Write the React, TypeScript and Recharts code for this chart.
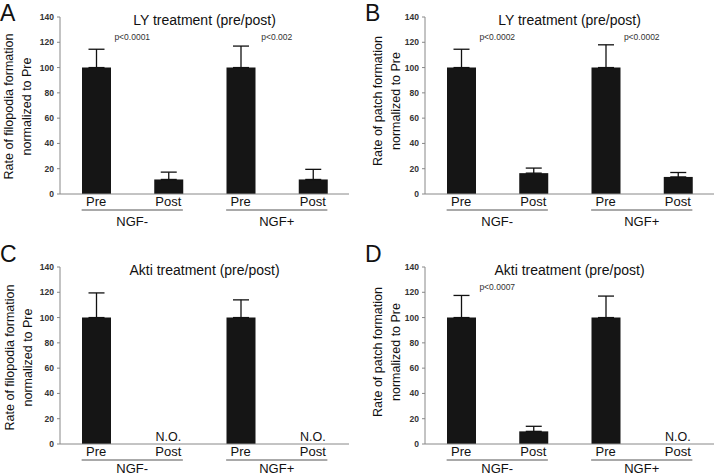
import React from 'react'
import { BarChart, Bar, XAxis, YAxis, ErrorBar, ReferenceDot } from 'recharts'

const conditions = ['Pre', 'Post', 'Pre', 'Post']
const groups = ['NGF-', 'NGF-', 'NGF+', 'NGF+']
const groupNames = ['NGF-', 'NGF+']
const yTicks = [0, 20, 40, 60, 80, 100, 120, 140]

// panel A: LY, filopodia
const lyFilopodia = [100, 11.5, 100, 11.5]
const lyFilopodiaErr = [14.5, 5.8, 17, 8]
const lyFilopodiaP = ['p<0.0001', 'p<0.002']

// panel B: LY, patch
const lyPatch = [100, 16.5, 100, 13.5]
const lyPatchErr = [14.5, 4, 18, 3.5]
const lyPatchP = ['p<0.0002', 'p<0.0002']

// panel C: Akti, filopodia
const aktiFilopodia = [100, 0, 100, 0]
const aktiFilopodiaErr = [19.5, null, 14, null]
const aktiFilopodiaNotes = ['', 'N.O.', '', 'N.O.']

// panel D: Akti, patch
const aktiPatch = [100, 10, 100, 0]
const aktiPatchErr = [17.5, 4, 17, null]
const aktiPatchNotes = ['', '', '', 'N.O.']
const aktiPatchP = ['p<0.0007', '']

const W = 360
const H = 238
const MARGIN = { top: 17, right: 11, bottom: 4, left: 30 }
const BAND = (W - 60 - MARGIN.right) / conditions.length
const BAR = 29
const FONT = '"Liberation Sans", Arial, Helvetica, sans-serif'

function buildRows(values: number[], errs: (number | null)[]) {
  return values.map((v, i) => ({
    key: `${groups[i]}|${conditions[i]}`,
    group: groups[i],
    value: v,
    err: errs[i] == null ? null : [0, errs[i]],
  }))
}

function makeTick(groupDy: number) {
  return function GroupTick(props: any) {
    const { x, y, payload } = props
    const [group, cond] = String(payload.value).split('|')
    return (
      <g>
        <text x={x} y={y + 12} textAnchor="middle" fontSize={13} fill="#111">
          {cond}
        </text>
        {cond === 'Pre' && (
          <g>
            <line x1={x - BAR / 2} x2={x + BAND + BAR / 2} y1={y + 16} y2={y + 16} stroke="#555" strokeWidth={1} />
            <text x={x + BAND / 2} y={y + groupDy} textAnchor="middle" fontSize={13} fill="#111">
              {group}
            </text>
          </g>
        )}
      </g>
    )
  }
}

type PanelProps = {
  left: number
  top: number
  letter: string
  letterY: number
  title: string
  titleY: number
  yLabel: string[]
  labelShift: number
  labelMid: number
  groupDy: number
  values: number[]
  errs: (number | null)[]
  notes?: string[]
  pValues?: string[]
}

function Panel(p: PanelProps) {
  const rows = buildRows(p.values, p.errs)
  const plotMid = 60 + (W - 60 - MARGIN.right) / 2
  const Tick = makeTick(p.groupDy)
  return (
    <div style={{ position: 'absolute', left: p.left, top: p.top, width: W, height: H }}>
      <BarChart width={W} height={H} data={rows} margin={MARGIN}>
        <XAxis
          dataKey="key"
          height={40}
          tickSize={0}
          tickMargin={0}
          interval={0}
          axisLine={{ stroke: '#888' }}
          tick={<Tick />}
        />
        <XAxis xAxisId="grp" dataKey="group" allowDuplicatedCategory={false} hide />
        <YAxis
          width={30}
          domain={[0, 140]}
          ticks={yTicks}
          tickSize={3}
          tickMargin={3}
          axisLine={{ stroke: '#888' }}
          tickLine={{ stroke: '#888' }}
          tick={{ fontSize: 8.5, fontWeight: 700, fill: '#333' }}
        />
        <Bar dataKey="value" fill="#151515" barSize={BAR} isAnimationActive={false}>
          <ErrorBar dataKey="err" direction="y" width={8} stroke="#111" strokeWidth={1.3} />
        </Bar>
        {(p.notes || []).map((t, i) =>
          t ? (
            <ReferenceDot
              key={`n${i}`}
              x={rows[i].key}
              y={rows[i].value}
              r={0}
              fill="none"
              stroke="none"
              label={{ value: t, position: 'top', offset: 3, fontSize: 12.5, fill: '#111' }}
            />
          ) : null
        )}
        {(p.pValues || []).map((t, i) =>
          t ? (
            <ReferenceDot
              key={`p${i}`}
              xAxisId="grp"
              x={groupNames[i]}
              y={124}
              r={0}
              fill="none"
              stroke="none"
              label={{ value: t, position: 'center', fontSize: 8.5, fill: '#333' }}
            />
          ) : null
        )}
      </BarChart>
      <svg width={W} height={H} style={{ position: 'absolute', left: 0, top: 0, overflow: 'visible', pointerEvents: 'none' }}>
        <text x={0} y={p.letterY} fontSize={23} fill="#111">
          {p.letter}
        </text>
        <text x={plotMid} y={p.titleY} textAnchor="middle" fontSize={14} fill="#111">
          {p.title}
        </text>
        {p.yLabel.map((line, i) => (
          <text
            key={i}
            transform={`translate(${12.5 + p.labelShift + i * 18},${p.labelMid}) rotate(-90)`}
            textAnchor="middle"
            fontSize={12.5}
            fill="#111"
          >
            {line}
          </text>
        ))}
      </svg>
    </div>
  )
}

export default function App(): React.JSX.Element {
  return (
    <div
      style={{
        position: 'absolute',
        left: 0,
        top: 0,
        width: 720,
        height: 476,
        overflow: 'hidden',
        background: '#fff',
        fontFamily: FONT,
      }}
    >
      <Panel
        left={0}
        top={0}
        letter="A"
        letterY={21}
        title="LY treatment (pre/post)"
        titleY={24.5}
        yLabel={['Rate of filopodia formation', 'normalized to Pre']}
        labelShift={0}
        labelMid={106.5}
        groupDy={31.5}
        values={lyFilopodia}
        errs={lyFilopodiaErr}
        pValues={lyFilopodiaP}
      />
      <Panel
        left={365}
        top={0}
        letter="B"
        letterY={21}
        title="LY treatment (pre/post)"
        titleY={24.5}
        yLabel={['Rate of patch formation', 'normalized to Pre']}
        labelShift={4.5}
        labelMid={101}
        groupDy={31.5}
        values={lyPatch}
        errs={lyPatchErr}
        pValues={lyPatchP}
      />
      <Panel
        left={0}
        top={250}
        letter="C"
        letterY={12}
        title="Akti treatment (pre/post)"
        titleY={25}
        yLabel={['Rate of filopodia formation', 'normalized to Pre']}
        labelShift={1}
        labelMid={107.5}
        groupDy={29}
        values={aktiFilopodia}
        errs={aktiFilopodiaErr}
        notes={aktiFilopodiaNotes}
      />
      <Panel
        left={365}
        top={250}
        letter="D"
        letterY={12}
        title="Akti treatment (pre/post)"
        titleY={25}
        yLabel={['Rate of patch formation', 'normalized to Pre']}
        labelShift={4.5}
        labelMid={102}
        groupDy={29}
        values={aktiPatch}
        errs={aktiPatchErr}
        notes={aktiPatchNotes}
        pValues={aktiPatchP}
      />
    </div>
  )
}
